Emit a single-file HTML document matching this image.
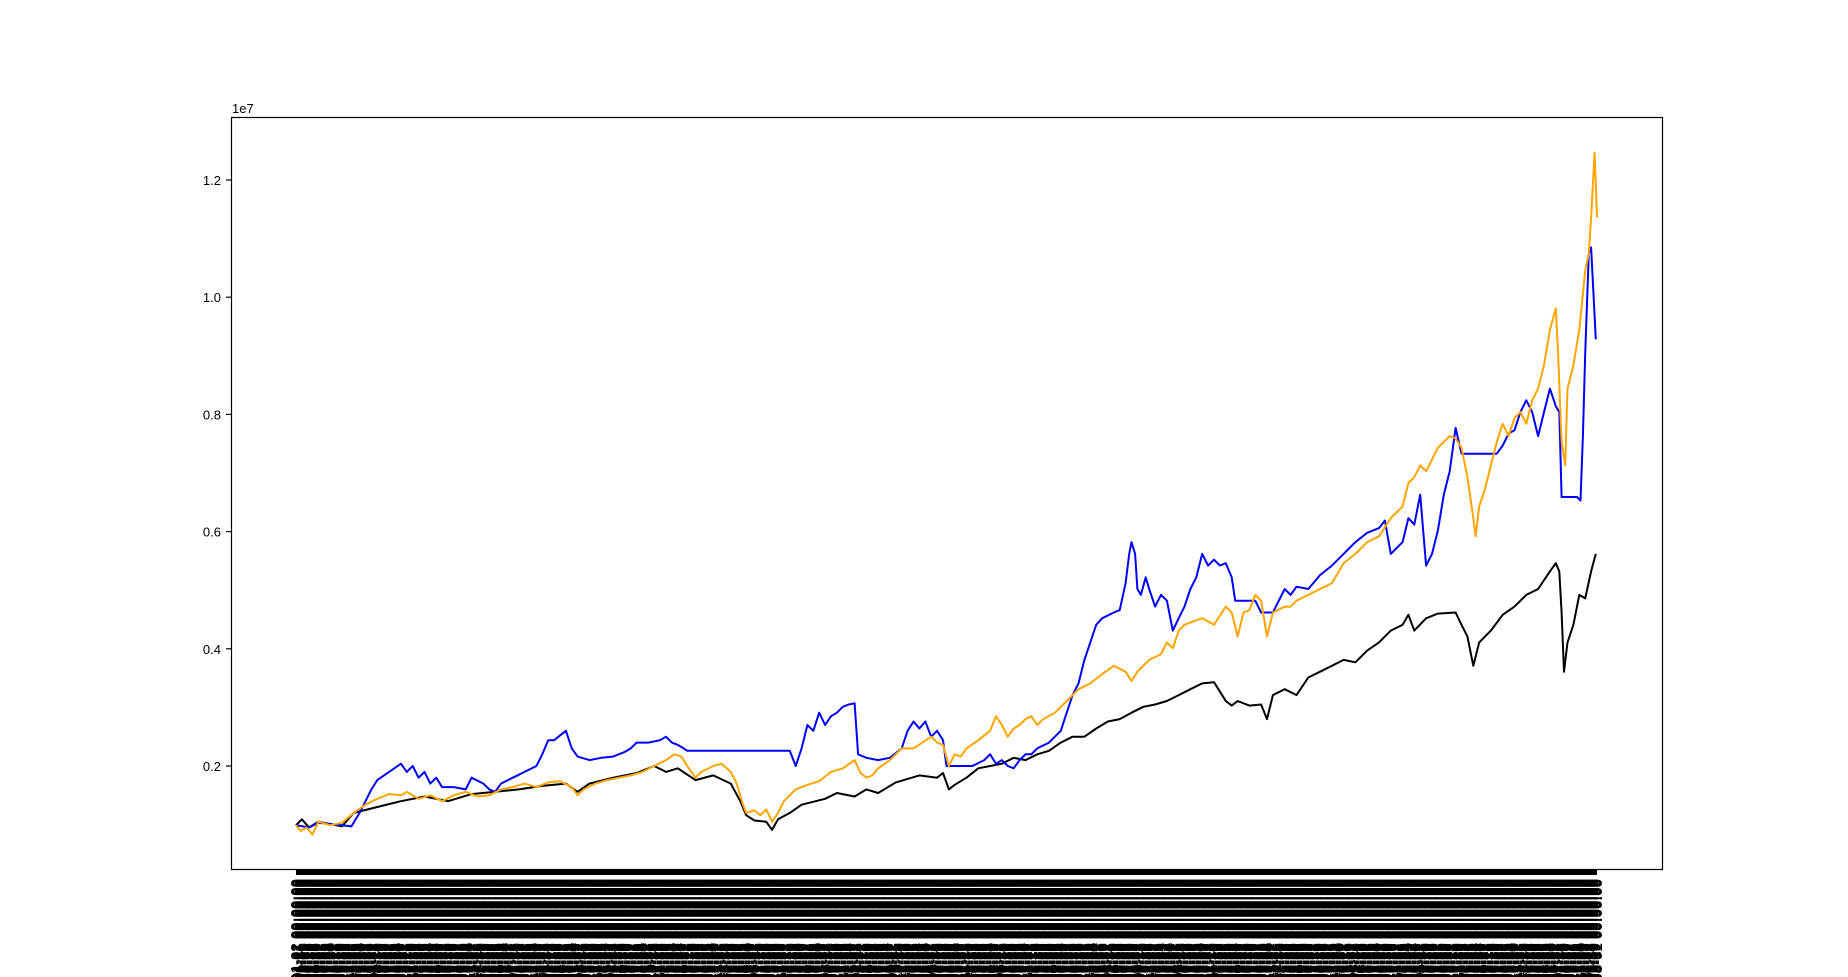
<!DOCTYPE html>
<html><head><meta charset="utf-8"><style>
html,body{margin:0;padding:0;background:#fff;}
svg{display:block;font-family:"Liberation Sans","DejaVu Sans",sans-serif;}
</style></head><body>
<svg id="chart" width="1848" height="977" viewBox="0 0 1848 977" xmlns="http://www.w3.org/2000/svg">
<rect x="0" y="0" width="1848" height="977" fill="#fff"/>
<g id="xlabels"></g>
<g id="yaxis"></g>
<g id="series"></g>
<rect x="231.5" y="117.5" width="1431" height="752" fill="none" stroke="#000" stroke-width="1.2"/>
<text x="232" y="113" font-size="13">1e7</text>
</svg>
<script>
const yTicks = [0.2,0.4,0.6,0.8,1.0,1.2];
const yTickLabels = ["0.2","0.4","0.6","0.8","1.0","1.2"];

const blackDays = [0,25,55,95,195,245,345,445,545,645,745,845,945,1045,1145,1195,1245,1345,1445,1520,1570,1620,1695,1770,1845,1885,1910,1945,1995,2020,2045,2095,2145,2245,2295,2370,2420,2470,2545,2645,2720,2745,2770,2795,2845,2895,2945,2995,3045,3095,3145,3195,3245,3295,3345,3395,3445,3495,3545,3595,3645,3695,3745,3795,3845,3895,3945,3970,3995,4045,4095,4120,4145,4195,4245,4295,4345,4395,4445,4495,4545,4595,4645,4695,4720,4745,4795,4845,4920,4945,4970,4995,5020,5070,5120,5170,5220,5270,5320,5345,5360,5370,5380,5395,5420,5445,5470,5495,5515];
const blackValues = [.99,1.09,.95,1.05,.97,1.20,1.30,1.40,1.48,1.40,1.52,1.56,1.60,1.66,1.70,1.56,1.70,1.80,1.88,2.00,1.90,1.96,1.76,1.84,1.70,1.40,1.16,1.07,1.05,.91,1.09,1.20,1.34,1.44,1.54,1.48,1.60,1.54,1.72,1.84,1.80,1.88,1.60,1.68,1.80,1.96,2.00,2.04,2.14,2.10,2.20,2.26,2.40,2.50,2.50,2.64,2.76,2.80,2.91,3.01,3.05,3.11,3.21,3.31,3.41,3.43,3.11,3.03,3.11,3.03,3.05,2.80,3.21,3.31,3.21,3.51,3.61,3.71,3.81,3.77,3.97,4.11,4.31,4.41,4.58,4.31,4.52,4.60,4.62,4.41,4.21,3.71,4.11,4.31,4.58,4.72,4.92,5.02,5.32,5.46,5.32,4.62,3.61,4.11,4.41,4.92,4.86,5.32,5.62];

const blueDays = [0,55,95,195,235,270,295,320,345,395,445,470,495,520,545,570,595,620,670,720,745,795,820,845,870,920,970,1020,1045,1070,1095,1145,1170,1195,1245,1295,1345,1395,1420,1445,1495,1545,1570,1595,1620,1645,1660,2095,2120,2145,2170,2195,2220,2245,2270,2295,2320,2345,2370,2385,2420,2470,2520,2570,2595,2620,2645,2670,2695,2720,2745,2760,2870,2920,2945,2970,2995,3020,3045,3070,3095,3120,3145,3195,3245,3270,3295,3320,3345,3370,3395,3420,3470,3495,3520,3535,3545,3560,3570,3585,3605,3620,3645,3670,3695,3720,3745,3770,3795,3820,3845,3870,3895,3920,3945,3970,3985,4070,4095,4120,4145,4170,4195,4220,4245,4295,4345,4395,4445,4470,4495,4545,4595,4620,4645,4670,4695,4720,4745,4770,4795,4820,4845,4870,4895,4920,4945,5095,5120,5145,5170,5195,5220,5245,5270,5295,5320,5345,5360,5370,5435,5450,5460,5470,5485,5495,5505,5515];
const blueValues = [.99,.95,1.03,.99,.97,1.20,1.40,1.60,1.76,1.90,2.04,1.90,2.00,1.80,1.90,1.70,1.80,1.64,1.64,1.60,1.80,1.70,1.60,1.56,1.70,1.80,1.90,2.00,2.20,2.44,2.44,2.60,2.30,2.16,2.10,2.14,2.16,2.24,2.30,2.40,2.40,2.44,2.50,2.40,2.36,2.30,2.26,2.26,2.00,2.30,2.70,2.60,2.91,2.70,2.85,2.91,3.01,3.05,3.07,2.20,2.14,2.10,2.14,2.30,2.60,2.76,2.64,2.76,2.50,2.60,2.44,2.00,2.00,2.10,2.20,2.04,2.10,2.00,1.96,2.10,2.20,2.20,2.30,2.40,2.60,2.91,3.21,3.41,3.81,4.11,4.41,4.52,4.62,4.66,5.12,5.62,5.82,5.62,5.02,4.92,5.22,5.02,4.72,4.92,4.82,4.31,4.52,4.72,5.02,5.22,5.62,5.42,5.52,5.42,5.46,5.22,4.82,4.82,4.62,4.62,4.62,4.82,5.02,4.92,5.06,5.02,5.26,5.42,5.62,5.72,5.82,5.98,6.06,6.19,5.62,5.72,5.82,6.23,6.12,6.63,5.42,5.62,6.02,6.63,7.03,7.77,7.33,7.33,7.47,7.67,7.73,8.04,8.24,8.04,7.63,8.04,8.44,8.14,8.04,6.59,6.59,6.53,7.63,9.04,10.75,10.85,10.05,9.28];

const orangeDays = [0,20,45,70,95,145,195,245,295,345,395,445,470,520,570,620,670,720,770,820,870,920,970,1020,1070,1120,1170,1195,1220,1270,1320,1370,1420,1470,1520,1570,1605,1635,1660,1695,1720,1770,1805,1845,1870,1895,1910,1945,1970,1995,2020,2045,2070,2120,2170,2220,2270,2320,2370,2395,2420,2445,2470,2520,2570,2620,2695,2720,2745,2770,2795,2820,2845,2895,2945,2970,2995,3020,3045,3070,3095,3120,3145,3170,3220,3270,3320,3370,3420,3470,3520,3545,3570,3620,3670,3695,3720,3745,3770,3795,3845,3895,3945,3970,3995,4020,4045,4070,4095,4120,4145,4195,4220,4245,4295,4345,4395,4445,4495,4545,4595,4645,4695,4720,4745,4770,4795,4820,4845,4870,4895,4920,4945,4970,4995,5005,5020,5045,5070,5095,5120,5145,5170,5195,5220,5245,5270,5295,5320,5345,5355,5370,5385,5395,5420,5445,5470,5485,5495,5510,5520];
const orangeValues = [.99,.89,.95,.83,1.05,.99,1.03,1.20,1.34,1.44,1.52,1.50,1.56,1.44,1.50,1.40,1.50,1.56,1.48,1.50,1.60,1.64,1.70,1.64,1.72,1.74,1.64,1.50,1.60,1.70,1.76,1.80,1.84,1.90,2.00,2.10,2.20,2.16,2.00,1.80,1.90,2.00,2.04,1.90,1.70,1.36,1.20,1.24,1.16,1.26,1.05,1.20,1.40,1.60,1.68,1.74,1.90,1.96,2.10,1.88,1.80,1.84,1.96,2.10,2.30,2.30,2.50,2.40,2.36,2.00,2.20,2.16,2.30,2.44,2.60,2.85,2.70,2.50,2.64,2.70,2.80,2.85,2.70,2.80,2.91,3.11,3.31,3.41,3.57,3.71,3.61,3.45,3.61,3.81,3.91,4.11,4.01,4.31,4.41,4.45,4.52,4.41,4.72,4.62,4.21,4.62,4.66,4.92,4.82,4.21,4.62,4.72,4.72,4.82,4.92,5.02,5.12,5.46,5.62,5.82,5.92,6.23,6.43,6.83,6.93,7.13,7.03,7.23,7.43,7.53,7.63,7.59,7.43,6.93,6.23,5.92,6.43,6.73,7.13,7.53,7.84,7.63,7.94,8.04,7.84,8.24,8.44,8.84,9.44,9.81,9.04,7.53,7.13,8.44,8.84,9.44,10.45,10.75,11.36,12.46,11.36];

const dayMin = 0, dayMax = 5520, labelCount = 800;
const startDate = Date.UTC(2001,0,2);

const NS = "http://www.w3.org/2000/svg";
function xScale(d){ return 296 + (d - dayMin) / (dayMax - dayMin) * (1597 - 296); }
// values in millions; 2 (=0.2e7) at y=766, 12 (=1.2e7) at y=180
function yScale(v){ return 766 - (v - 2) / 10 * 586; }

const yAxis = document.getElementById('yaxis');
yTicks.forEach((t, i) => {
  const y = yScale(t * 10);
  const tk = document.createElementNS(NS, 'line');
  
  
  tk.setAttribute('x1', 226); tk.setAttribute('x2', 231);
  tk.setAttribute('y1', y); tk.setAttribute('y2', y);
  tk.setAttribute('stroke', '#000'); tk.setAttribute('stroke-width', '1.2');
  yAxis.appendChild(tk);
  const tx = document.createElementNS(NS, 'text');
  
  
  tx.setAttribute('x', 221); tx.setAttribute('y', y + 5);
  tx.setAttribute('text-anchor', 'end'); tx.setAttribute('font-size', '13');
  tx.textContent = yTickLabels[i];
  yAxis.appendChild(tx);
});

const xl = document.getElementById('xlabels');
const band = document.createElementNS(NS, 'rect');


band.setAttribute('x', 296); band.setAttribute('y', 870); band.setAttribute('width', 1301); band.setAttribute('height', 5);
band.setAttribute('fill', '#000');
xl.appendChild(band);
for (let i = 0; i < labelCount; i++) {
  const d = dayMin + i * (dayMax - dayMin) / (labelCount - 1);
  const x = xScale(d);
  const dt = new Date(startDate + d * 1.4 * 86400000);
  const lbl = dt.toISOString().slice(0, 10) + " 00:00:00";
  const t = document.createElementNS(NS, 'text');
  
  
  t.setAttribute('transform', 'translate(' + (x + 5) + ',879) rotate(-90)');
  t.setAttribute('text-anchor', 'end');
  t.setAttribute('font-size', '15');
  t.setAttribute('font-weight', 'bold');
  t.textContent = lbl;
  xl.appendChild(t);
}

const series = document.getElementById('series');
function drawLine(days, vals, color, name) {
  const n = Math.min(days.length, vals.length);
  let d = '';
  for (let i = 0; i < n; i++) d += (i ? 'L' : 'M') + xScale(days[i]).toFixed(1) + ',' + yScale(vals[i]).toFixed(1);
  const p = document.createElementNS(NS, 'path');
  
  
  p.setAttribute('d', d);
  p.setAttribute('fill', 'none');
  p.setAttribute('stroke', color);
  p.setAttribute('stroke-width', '2');
  p.setAttribute('stroke-linejoin', 'round');
  series.appendChild(p);
}
drawLine(blackDays, blackValues, '#000000', 'benchmark-line');
drawLine(blueDays, blueValues, '#0000ff', 'strategy-blue-line');
drawLine(orangeDays, orangeValues, '#ffa500', 'strategy-orange-line');
</script>
</body></html>
